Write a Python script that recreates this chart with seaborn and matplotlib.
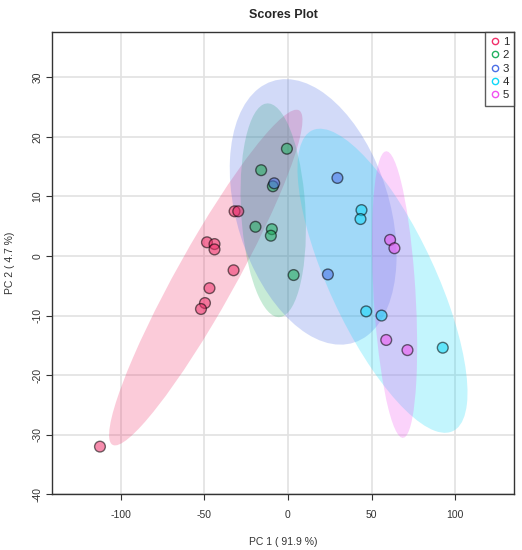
import numpy as np
import pandas as pd
import matplotlib
matplotlib.use("Agg")
import matplotlib.pyplot as plt
from matplotlib.patches import Ellipse
from matplotlib.lines import Line2D
import seaborn as sns

# groups and colours
groups = ["1", "2", "3", "4", "5"]
group_colors = ["#F0306A", "#22B15F", "#4C6FE6", "#10D8F8", "#F050F0"]

# PCA scores
pc1_g1 = [-31.9, -29.7, -48.4, -43.9, -43.9, -32.5, -46.9, -49.6, -52.0, -112.4]
pc2_g1 = [7.5, 7.5, 2.3, 2.0, 1.1, -2.4, -5.4, -7.9, -8.9, -32.0]
pc1_g2 = [-0.6, -16.0, -9.0, -19.4, -9.6, -10.2, 3.4]
pc2_g2 = [18.0, 14.4, 11.7, 4.9, 4.5, 3.4, -3.2]
pc1_g3 = [-8.2, 29.6, 23.9]
pc2_g3 = [12.2, 13.1, -3.1]
pc1_g4 = [44.0, 43.4, 46.8, 56.0, 92.6]
pc2_g4 = [7.7, 6.2, -9.3, -10.0, -15.4]
pc1_g5 = [61.1, 63.7, 58.8, 71.5]
pc2_g5 = [2.7, 1.3, -14.1, -15.8]

x_ticks = [-100, -50, 0, 50, 100]
y_ticks = [-40, -30, -20, -10, 0, 10, 20, 30]

pc1_all = [pc1_g1, pc1_g2, pc1_g3, pc1_g4, pc1_g5]
pc2_all = [pc2_g1, pc2_g2, pc2_g3, pc2_g4, pc2_g5]

df = pd.concat([
    pd.DataFrame({"PC1": a, "PC2": b, "group": g})
    for a, b, g in zip(pc1_all, pc2_all, groups)
], ignore_index=True)

CHI2_95 = 5.991464547  # 95% level, 2 dof


def add_ellipse(ax, x, y, color):
    cov = np.cov(x, y)
    vals, vecs = np.linalg.eigh(cov)
    order = vals.argsort()[::-1]
    vals, vecs = vals[order], vecs[:, order]
    angle = np.degrees(np.arctan2(vecs[1, 0], vecs[0, 0]))
    w, h = 2 * np.sqrt(CHI2_95 * vals)
    e = Ellipse((np.mean(x), np.mean(y)), w, h, angle=angle,
                facecolor=color, edgecolor="none", alpha=0.25, zorder=1)
    ax.add_patch(e)


sns.set_style("white")
plt.rcParams["font.family"] = ["Liberation Sans", "DejaVu Sans"]

fig = plt.figure(figsize=(5.22, 5.5), dpi=100)
ax = fig.add_axes([0.1002, 0.1013, 0.8851, 0.8411])

for x, y, c in zip(pc1_all, pc2_all, group_colors):
    add_ellipse(ax, x, y, c)

sns.scatterplot(data=df, x="PC1", y="PC2", hue="group", palette=group_colors,
                hue_order=groups, s=60, alpha=0.55, edgecolor="black",
                linewidth=1.0, legend=False, ax=ax, zorder=3)

ax.set_xlim(-140.9, 135.4)
ax.set_ylim(-40, 37.65)
ax.set_xticks(x_ticks)
ax.set_yticks(y_ticks)
ax.set_xticklabels([str(t) for t in x_ticks], fontsize=7.5, color="#333333")
ax.set_yticklabels([str(t) for t in y_ticks], fontsize=7.5, color="#333333",
                   rotation=90, va="center")
ax.grid(True, color="#E2E2E2", linewidth=1.2, zorder=0)
ax.set_axisbelow(True)
ax.tick_params(axis="x", direction="out", length=4.5, width=0.8,
               color="#333333", pad=7, bottom=True)
ax.tick_params(axis="y", direction="out", length=4, width=0.8,
               color="#333333", pad=3, left=True)
for side in ["left", "bottom", "top", "right"]:
    ax.spines[side].set_visible(True)
    ax.spines[side].set_color("#333333")
    ax.spines[side].set_linewidth(1.0)

ax.set_xlabel("PC 1 ( 91.9 %)", fontsize=7.5, color="#333333", labelpad=12)
ax.set_ylabel("PC 2 ( 4.7 %)", fontsize=7.5, color="#333333", labelpad=13)
ax.set_title("Scores Plot", fontsize=9, fontweight="bold", pad=10)

handles = [Line2D([0], [0], marker="o", linestyle="none", markersize=4.5,
                  markerfacecolor="none", markeredgecolor=c, markeredgewidth=1.0)
           for c in group_colors]
leg = ax.legend(handles, groups, loc="upper right", fontsize=8.2,
                frameon=True, fancybox=False, borderaxespad=0,
                handletextpad=0.3, labelspacing=0.3, borderpad=0.45,
                handlelength=0.8)
leg.get_frame().set_edgecolor("#333333")
leg.get_frame().set_linewidth(1.0)
leg.set_zorder(5)

fig.savefig("out.png", dpi=100)
